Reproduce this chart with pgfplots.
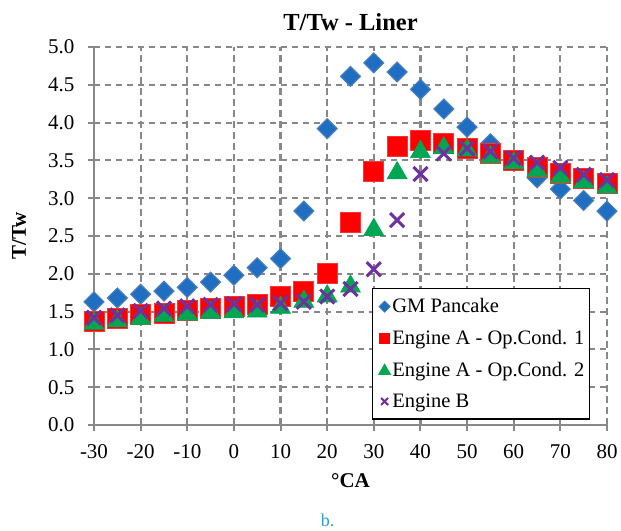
\documentclass[border=0pt]{standalone}
\usepackage{fontspec}
\setmainfont{Liberation Serif}
\usepackage{pgfplots}
\usepackage{pgfplotstable}
\usetikzlibrary{calc}
\pgfplotsset{compat=1.18}
\definecolor{gmblue}{HTML}{1F6EC1}
\definecolor{gmedge}{HTML}{4A7EBB}
\definecolor{engred}{HTML}{FF0000}
\definecolor{enggreen}{HTML}{00A651}
\definecolor{engpurple}{HTML}{7030A0}
\definecolor{gridgray}{HTML}{888888}
\definecolor{capblue}{HTML}{2E9EDB}
\pgfplotsset{mylegimg/.style={legend image code/.code={\path (0cm,0cm) -- (0.52cm,0cm); \draw[##1] plot coordinates {(0.28cm,0cm)};}}}

\pgfplotstableread{
ca val
-30 1.63
-25 1.68
-20 1.73
-15 1.77
-10 1.82
-5 1.89
0 1.98
5 2.08
10 2.20
15 2.83
20 3.92
25 4.61
30 4.79
35 4.67
40 4.44
45 4.18
50 3.94
55 3.72
60 3.50
65 3.27
70 3.12
75 2.97
80 2.83
}\gmdata

\pgfplotstableread{
ca val
-30 1.37
-25 1.41
-20 1.46
-15 1.48
-10 1.51
-5 1.54
0 1.57
5 1.60
10 1.70
15 1.77
20 2.00
25 2.68
30 3.35
35 3.68
40 3.76
45 3.73
50 3.66
55 3.59
60 3.50
65 3.41
70 3.33
75 3.26
80 3.19
}\oponedata

\pgfplotstableread{
ca val
-30 1.38
-25 1.41
-20 1.44
-15 1.48
-10 1.50
-5 1.52
0 1.53
5 1.54
10 1.59
15 1.67
20 1.74
25 1.87
30 2.62
35 3.37
40 3.65
45 3.70
50 3.67
55 3.58
60 3.50
65 3.40
70 3.32
75 3.25
80 3.18
}\optwodata

\pgfplotstableread{
ca val
-30 1.42
-25 1.45
-20 1.51
-15 1.54
-10 1.57
-5 1.59
0 1.60
5 1.59
10 1.61
15 1.63
20 1.70
25 1.80
30 2.06
35 2.71
40 3.32
45 3.59
50 3.66
55 3.62
60 3.53
65 3.47
70 3.40
75 3.31
80 3.24
}\engbdata

\begin{document}
\begin{tikzpicture}
\begin{axis}[
  name=ax,
  scale only axis, width=513pt, height=378pt,
  xmin=-30, xmax=80, ymin=0, ymax=5,
  xtick={-30,-20,...,80}, ytick={0,0.5,...,5},
  axis x line*=bottom, axis y line*=left,
  axis line style={gridgray, line width=2.4pt, -},
  tick align=outside, major tick length=6pt,
  tick style={gridgray, line width=2pt},
  grid=major,
  major grid style={gridgray, line width=2.1pt, dash pattern=on 6.5pt off 4.5pt},
  /pgf/number format/assume math mode=true,
  ticklabel style={font=\fontsize{21}{24}\selectfont, black},
  yticklabel style={xshift=-10pt, /pgf/number format/.cd, fixed, fixed zerofill, precision=1},
  xticklabel style={yshift=-10pt, /pgf/number format/.cd, fixed, precision=0},
  title={\textbf{T/Tw - Liner}},
  title style={font=\fontsize{24.5}{28}\selectfont, at={(axis description cs:0.5,1.05)}, anchor=center},
  xlabel={\textbf{°CA}},
  ylabel={\textbf{T/Tw}},
  label style={font=\fontsize{21}{24}\selectfont},
  xlabel style={at={(axis description cs:0.5,-0.148)}, anchor=center},
  ylabel style={at={(axis description cs:-0.146,0.5)}, anchor=center},
  legend style={at={(0.542,0.362)}, anchor=north west, draw=black, line width=1.2pt,
    font=\fontsize{20.5}{24}\selectfont, row sep=12pt, inner xsep=4pt, inner ysep=8pt,
    nodes={inner xsep=1pt}},
  legend cell align=left,
]
\addlegendimage{mylegimg, draw=none, mark=square*, mark options={rotate=45, fill=gmblue, draw=gmedge, line width=0.6pt}, mark size=4pt}
\addlegendimage{mylegimg, draw=none, mark=square*, mark options={fill=engred, draw=engred}, mark size=5pt}
\addlegendimage{mylegimg, draw=none, mark=triangle*, mark options={fill=enggreen, draw=enggreen, yshift=-1pt}, mark size=6.5pt}
\addlegendimage{mylegimg, draw=none, mark=x, mark options={draw=engpurple, line width=2pt}, mark size=5pt}

\addplot[forget plot, only marks, mark=square*, mark size=7pt,
  mark options={rotate=45, fill=gmblue, draw=gmedge, line width=1.2pt}] table[x=ca, y=val] {\gmdata};
\addplot[forget plot, only marks, mark=square*, mark size=10pt,
  mark options={fill=engred, draw=engred!80!white, line width=0.8pt}] table[x=ca, y=val] {\oponedata};
\addplot[forget plot, only marks, mark=triangle*, mark size=11.5pt,
  mark options={fill=enggreen, draw=enggreen, line width=0.6pt, yshift=-2.8pt}] table[x=ca, y=val] {\optwodata};
\addplot[forget plot, only marks, mark=x, mark size=10pt,
  mark options={draw=engpurple, line width=3pt}] table[x=ca, y=val] {\engbdata};
\legend{GM Pancake, Engine A - Op.Cond. 1, Engine A - Op.Cond. 2, Engine B}
\end{axis}
\node[font=\fontsize{18}{20}\selectfont, text=capblue] at ($(ax.south)+(-23pt,-95pt)$) {b.};
\path ($(ax.south west)+(-94pt,-106pt)$) rectangle ($(ax.north east)+(14pt,47pt)$);
\end{tikzpicture}
\end{document}
